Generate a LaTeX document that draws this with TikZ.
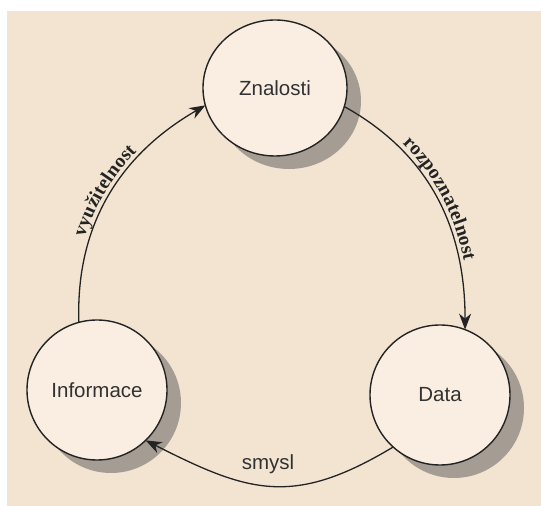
\documentclass[tikz,border=0pt]{standalone}
\usepackage{fontspec}
\setmainfont{Liberation Sans}
\newfontfamily\labelserif{Liberation Serif}
\usetikzlibrary{shapes.geometric,shadows,arrows.meta,decorations.text}
\definecolor{bgbeige}{RGB}{243,228,210}
\definecolor{circfill}{RGB}{249,238,225}
\definecolor{shadowc}{RGB}{165,157,147}
\definecolor{inkc}{RGB}{35,35,35}
\definecolor{textc}{RGB}{50,50,50}
\newcommand{\curvedfont}{\labelserif\bfseries\fontsize{19.5}{21}\selectfont}
\begin{document}
\begin{tikzpicture}[x=1pt,y=1pt,
  stage/.style={ellipse, draw=inkc, line width=1.4pt, fill=circfill, inner sep=0pt, outer sep=0pt,
    font=\fontsize{20.5}{24}\selectfont, text=textc,
    drop shadow={shadow xshift=14pt, shadow yshift=-13pt, fill=shadowc, opacity=1}},
  flow/.style={draw=inkc, line width=1.3pt, -{Stealth[length=16pt,width=12pt,inset=5pt]}},
  lbl/.style={font=\fontsize{20.5}{24}\selectfont, text=textc, inner sep=0pt},
]
\useasboundingbox (0,0) rectangle (541,506);
\fill[white] (0,0) rectangle (541,506);
\fill[bgbeige] (7,0) rectangle (541,495);

\node[stage, minimum width=144pt, minimum height=136pt] (Z) at (275,418) {Znalosti};
\node[stage, minimum width=140pt, minimum height=140pt] (D) at (440,111) {Data};
\node[stage, minimum width=140pt, minimum height=140pt] (I) at (97,116) {Informace};

\draw[flow, postaction={decorate, decoration={text along path, text={|\curvedfont|využitelnost},
    text color=inkc, text align={left indent=84pt}, raise=5pt}}]
  (I.105) to[out=92, in=210] (Z.194);
\draw[flow, postaction={decorate, decoration={text along path, text={|\curvedfont|rozpoznatelnost},
    text color=inkc, text align={left indent=68pt}, raise=5pt}}]
  (Z.-15) to[out=-29, in=90] (D.69);
\draw[flow] (D.228) to[out=211, in=-27, looseness=1.2] (I.-46);

\node[lbl] (S) at (268,42) {smysl};
\end{tikzpicture}
\end{document}
